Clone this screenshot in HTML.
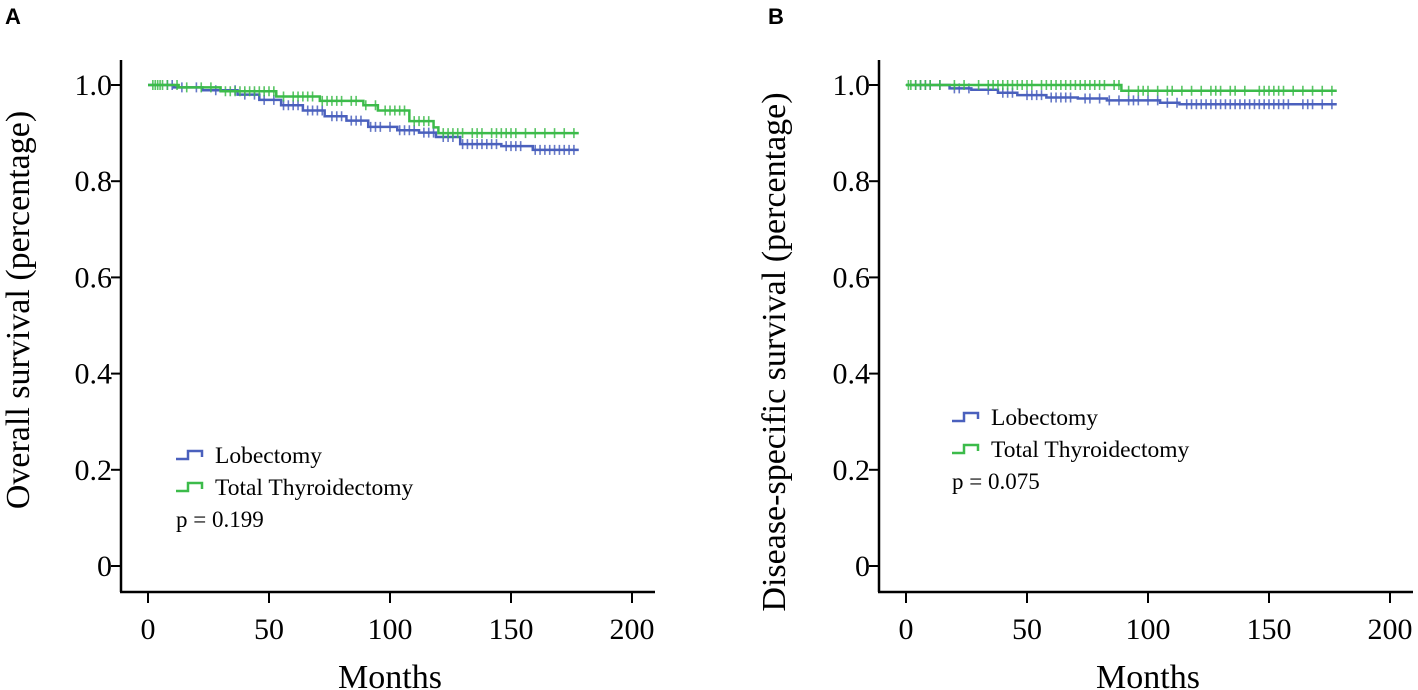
<!DOCTYPE html>
<html><head><meta charset="utf-8"><style>
html,body{margin:0;padding:0;background:#fff;}
svg{display:block;font-family:"Liberation Serif",serif;}
</style></head><body>
<svg id="chart" width="1418" height="690" viewBox="0 0 1418 690"></svg>
<script>
const xTicks=[0,50,100,150,200];
const yTicks=[0,0.2,0.4,0.6,0.8,1.0];
const yTickLabels=["0","0.2","0.4","0.6","0.8","1.0"];
// Panel A (overall survival)
const aLobT=[0,10.7,22.5,37,46,55,64,73,82,91,103,112,119,129,146,159,178];
const aLobS=[1,0.995,0.989,0.98,0.969,0.958,0.947,0.935,0.926,0.913,0.906,0.901,0.892,0.877,0.873,0.865,0.865];
const aTotT=[0,12.6,30,53,71,89,95,108,118,120,178];
const aTotS=[1,0.995,0.987,0.976,0.967,0.958,0.947,0.925,0.912,0.9,0.9];
const aLobCens=[8,10,14,20,28,36,40,44,48,52,56,58,60,62,66,68,70,72,76,78,80,84,86,88,92,94,96,100,104,106,108,110,114,116,118,122,124,126,130,132,134,136,138,140,142,144,148,150,152,154,160,162,164,166,168,170,172,174,176];
const aTotCens=[2,3,4,5,6,8,12,16,22,26,32,34,36,38,40,42,44,46,48,50,52,56,60,62,64,66,68,72,74,76,78,80,84,86,90,94,98,100,102,104,106,110,112,114,116,122,124,126,128,130,134,136,138,142,144,146,148,150,152,156,160,164,168,172,176];
// Panel B (disease-specific survival)
const bLobT=[0,18,27,38,46,58,71,83,105,113,178];
const bLobS=[1,0.993,0.99,0.984,0.979,0.974,0.972,0.968,0.963,0.96,0.96];
const bTotT=[0,89,178];
const bTotS=[1,0.988,0.988];
const bLobCens=[4,6,8,10,14,20,22,26,34,40,42,44,50,52,54,56,60,62,64,66,68,74,76,80,84,88,92,94,96,100,104,108,112,116,118,120,122,124,126,128,130,132,134,136,138,140,142,144,146,148,150,152,154,156,158,164,166,168,172,176];
const bTotCens=[1,2,4,6,8,10,14,20,24,30,34,36,38,40,42,44,46,48,50,52,56,58,60,62,64,66,68,70,72,74,76,78,80,82,86,88,92,96,98,100,104,108,110,114,118,122,126,128,130,134,136,140,146,148,150,152,154,156,160,164,168,172,176];

const NS="http://www.w3.org/2000/svg";
const svg=document.getElementById('chart');
function mk(tag,attrs,parent,text){const e=document.createElementNS(NS,tag);for(const k in attrs)e.setAttribute(k,attrs[k]);if(text!==undefined)e.textContent=text;(parent||svg).appendChild(e);return e;}
const BLUE="#4a60bd",GREEN="#3cbb4a";
function survAt(T,S,t){let s=S[0];for(let i=0;i<T.length;i++){if(T[i]<=t)s=S[i];}return s;}
function panel(cfg){
  const g=mk('g',{});
  
  
  const x=v=>cfg.x0+v*(cfg.x200-cfg.x0)/200;
  const y=v=>566-v*481;
  const ya=mk('line',{x1:cfg.ax,y1:60,x2:cfg.ax,y2:592,stroke:'#000','stroke-width':2.5},g);
  
  const xa=mk('line',{x1:cfg.ax-1,y1:592,x2:cfg.xend,y2:592,stroke:'#000','stroke-width':2.5},g);
  
  xTicks.forEach(t=>{
    mk('line',{x1:x(t),y1:592,x2:x(t),y2:603,stroke:'#000','stroke-width':2},g);
    const l=mk('text',{x:x(t),y:639,'text-anchor':'middle','font-size':30},g,String(t));
    
  });
  yTicks.forEach((t,i)=>{
    mk('line',{x1:cfg.ax-10,y1:y(t),x2:cfg.ax,y2:y(t),stroke:'#000','stroke-width':2},g);
    const l=mk('text',{x:cfg.ax-9,y:y(t)+10,'text-anchor':'end','font-size':30},g,yTickLabels[i]);
    
  });
  const xt=mk('text',{x:(x(0)+x(200))/2,y:688,'text-anchor':'middle','font-size':34},g,'Months');
  
  const yt=mk('text',{x:0,y:0,'text-anchor':'middle','font-size':cfg.yfs,transform:`translate(${cfg.ytx},${cfg.yty}) rotate(-90)`},g,cfg.ytitle);
  
  const pl=mk('text',{x:cfg.lx,y:24,'font-size':22,'font-weight':'bold','font-family':'Liberation Sans, sans-serif'},g,cfg.label);
  
  cfg.series.forEach(s=>{
    let d=`M${x(s.T[0])},${y(s.S[0])}`;
    for(let i=1;i<s.T.length;i++){d+=`H${x(s.T[i])}V${y(s.S[i])}`;}
    const p=mk('path',{d:d,fill:'none',stroke:s.c,'stroke-width':2.5},g);
    
    s.cens.forEach(t=>{
      const cy=y(survAt(s.T,s.S,t));
      const m=mk('path',{d:`M${x(t)},${cy-5}V${cy+5}M${x(t)-3},${cy}H${x(t)+3}`,stroke:s.c,'stroke-width':1.6,fill:'none',opacity:0.85},g);
      
    });
  });
  const lg=mk('g',{},g);
  
  cfg.series.forEach((s,i)=>{
    const ly=cfg.ly+i*32;
    mk('path',{d:`M${cfg.lgx},${ly+4}H${cfg.lgx+12}V${ly-4}H${cfg.lgx+26}V${ly+2}`,fill:'none',stroke:s.c,'stroke-width':2.5},lg);
    const t=mk('text',{x:cfg.lgx+39,y:ly+8,'font-size':23.5},lg,s.label);
    
  });
  const pv=mk('text',{x:cfg.lgx,y:cfg.ly+72,'font-size':23},g,cfg.p);
  
}
panel({name:'panel-a',label:'A',lx:5,x0:148,x200:632,ax:121,xend:655,ytx:29,yty:310,yfs:34,ytitle:'Overall survival (percentage)',lgx:176,ly:455,p:'p = 0.199',
  series:[{n:'lobectomy',label:'Lobectomy',c:BLUE,T:aLobT,S:aLobS,cens:aLobCens},{n:'total-thyroidectomy',label:'Total Thyroidectomy',c:GREEN,T:aTotT,S:aTotS,cens:aTotCens}]});
panel({name:'panel-b',label:'B',lx:768,x0:906,x200:1390,ax:879,xend:1413,ytx:785,yty:352,yfs:34,ytitle:'Disease-specific survival (percentage)',lgx:952,ly:417,p:'p = 0.075',
  series:[{n:'lobectomy',label:'Lobectomy',c:BLUE,T:bLobT,S:bLobS,cens:bLobCens},{n:'total-thyroidectomy',label:'Total Thyroidectomy',c:GREEN,T:bTotT,S:bTotS,cens:bTotCens}]});
</script>
</body></html>
